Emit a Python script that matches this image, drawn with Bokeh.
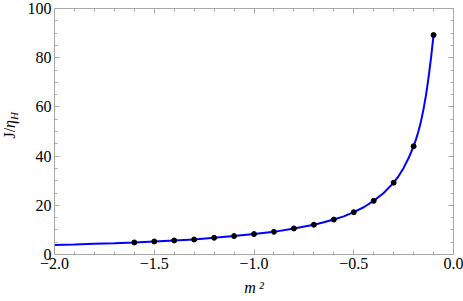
from bokeh.plotting import figure
from bokeh.models import LinearAxis, FixedTicker, Range1d, Div
from bokeh.layouts import row
from bokeh.embed import file_html
from bokeh.resources import INLINE

# --- data ---
dot_x = [-1.6, -1.5, -1.4, -1.3, -1.2, -1.1, -1.0, -0.9, -0.8, -0.7,
         -0.6, -0.5, -0.4, -0.3, -0.2, -0.1]
dot_y = [4.9, 5.3, 5.7, 6.1, 6.8, 7.5, 8.3, 9.2, 10.6, 12.1,
         14.2, 17.2, 21.8, 29.2, 44.0, 89.2]

curve_x = [-2.0, -1.9, -1.8, -1.7, -1.6, -1.5, -1.4, -1.3, -1.2, -1.1,
           -1.0, -0.9, -0.8, -0.7, -0.65, -0.6, -0.55, -0.5, -0.45, -0.4,
           -0.35, -0.3, -0.275, -0.25, -0.225, -0.2, -0.1875, -0.175,
           -0.1625, -0.15, -0.1375, -0.125, -0.1125, -0.1]
curve_y = [3.9, 4.1, 4.35, 4.6, 4.9, 5.3, 5.7, 6.1, 6.8, 7.5,
           8.3, 9.2, 10.6, 12.1, 13.1, 14.2, 15.5, 17.2, 19.2, 21.8,
           25.0, 29.2, 31.9, 35.2, 39.2, 44.0, 46.9, 50.3, 54.3, 59.2,
           65.0, 72.0, 80.0, 89.2]

x_major = [-2.0, -1.5, -1.0, -0.5, 0.0]
x_major_labels = ["\u22122.0", "\u22121.5", "\u22121.0", "\u22120.5", "0.0"]
x_minor = [round(-2.0 + 0.1 * i, 2) for i in range(21)]
y_major = [0, 20, 40, 60, 80, 100]
y_major_labels = ["0", "20", "40", "60", "80", "100"]
y_minor = list(range(0, 101, 5))

x_title = "m\u2009\u00b2"

FONT = "Liberation Serif"
AX_COLOR = "#a8a8a8"

p = figure(width=443, height=301, output_backend="svg", toolbar_location=None,
           x_range=Range1d(-2.0, 0.0), y_range=Range1d(0, 100),
           min_border_left=34, min_border_right=10, min_border_top=8,
           min_border_bottom=47, x_axis_location=None, y_axis_location=None,
           margin=0)
p.grid.visible = False
p.outline_line_color = None
p.background_fill_color = "white"
p.border_fill_color = "white"


def style_axis(ax, ticks, minor, labels, show_labels):
    ax.ticker = FixedTicker(ticks=ticks, minor_ticks=minor)
    ax.axis_line_color = AX_COLOR
    ax.axis_line_width = 1
    ax.major_tick_line_color = AX_COLOR
    ax.minor_tick_line_color = AX_COLOR
    ax.major_tick_in = 5
    ax.major_tick_out = 0
    ax.minor_tick_in = 3
    ax.minor_tick_out = 0
    if show_labels:
        ax.major_label_overrides = {float(t): l for t, l in zip(ticks, labels)}
        ax.major_label_text_font = FONT
        ax.major_label_text_font_size = "16px"
        ax.major_label_text_color = "black"
        ax.major_label_standoff = 3
    else:
        ax.major_label_overrides = {float(t): "" for t in ticks}
        ax.major_label_standoff = 0


xb = LinearAxis()
style_axis(xb, x_major, x_minor, x_major_labels, True)
xb.axis_label = x_title
xb.axis_label_text_font = FONT
xb.axis_label_text_font_style = "italic"
xb.axis_label_text_font_size = "16px"
xb.axis_label_text_color = "black"
xb.axis_label_standoff = 7
p.add_layout(xb, "below")
xt = LinearAxis()
style_axis(xt, x_major, x_minor, x_major_labels, False)
p.add_layout(xt, "above")
yl = LinearAxis()
style_axis(yl, y_major, y_minor, y_major_labels, True)
p.add_layout(yl, "left")
yr = LinearAxis()
style_axis(yr, y_major, y_minor, y_major_labels, False)
p.add_layout(yr, "right")

p.line(curve_x, curve_y, line_color="#0000ff", line_width=2)
p.scatter(dot_x, dot_y, size=5, color="black")

ylab_html = (
    '<div style="padding-top:112px;padding-left:1px;">'
    '<span style="display:inline-block;writing-mode:vertical-rl;transform:rotate(180deg);'
    'font-family:\'Liberation Serif\';font-size:16px;line-height:18px;color:black;white-space:nowrap;">'
    'J/<i>\u03b7</i><sub style="font-size:11px;"><i>H</i></sub></span></div>'
)
ylab = Div(text=ylab_html, width=20, height=301, margin=0)

layout = row(ylab, p, spacing=0)
open("out.html", "w").write(file_html(layout, INLINE))
